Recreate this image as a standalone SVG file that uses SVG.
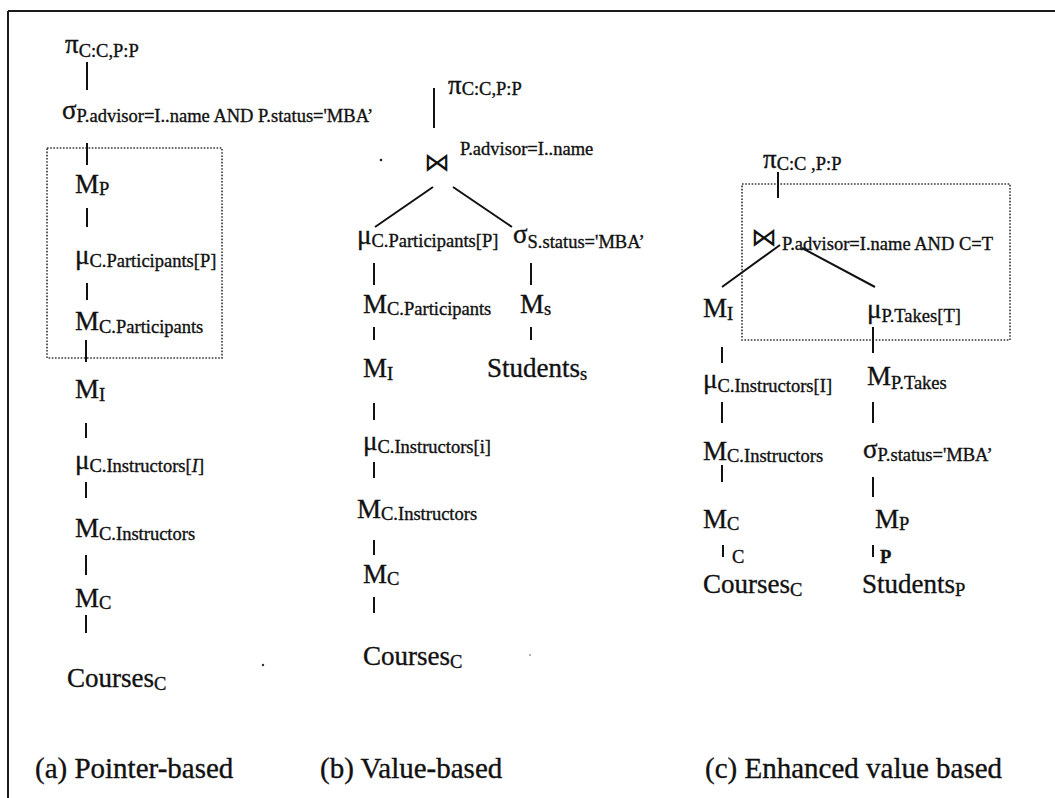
<svg xmlns="http://www.w3.org/2000/svg" width="1055" height="798" viewBox="0 0 1055 798">
  <style>
    .t { font-family: "Liberation Serif", "Times New Roman", serif; fill: #111; stroke: #111; stroke-width: 0.35; }
    .big { font-size: 27px; }
    .sub { font-size: 18.5px; }
    .lbl { font-size: 29px; }
    .bow { font-family: "DejaVu Sans", "DejaVu Serif", sans-serif; font-size: 26px; fill: #111; }
    .edge { stroke: #111; stroke-width: 2; fill: none; }
    .box { stroke: #333; stroke-width: 1.6; stroke-dasharray: 1.6 1.6; fill: none; }
    .frame { stroke: #1a1a1a; stroke-width: 2; fill: none; }
  </style>

  <rect width="1055" height="798" fill="#ffffff"/>

  <!-- outer frame: top and left rules -->
  <path class="frame" d="M8,11 H1055 M8,11 V798"/>

  <!-- grouping boxes -->
  <rect class="box" x="47" y="148" width="175" height="210"/>
  <rect class="box" x="742" y="184" width="268" height="156"/>

  <!-- connectors -->
  <g id="connectors">
    <!-- (a) pointer-based -->
    <path class="edge" d="M87,62 V90 M87,143 V165 M87,208 V227 M87,283 V300 M86,340 V362 M86,423 V438 M86,482 V498 M86,555 V575 M86,615 V633"/>
    <!-- (b) value-based -->
    <path class="edge" d="M434,88 V128 M433,187 L375,227 M453,187 L512,227 M374,263 V285 M531,263 V285 M374,327 V340 M531,327 V340 M374,403 V420 M374,462 V478 M374,540 V555 M374,597 V613"/>
    <!-- (c) enhanced value-based -->
    <path class="edge" d="M778,172 V198 M780,245 L722,287 M802,248 L875,287 M873,327 V353 M722,347 V363 M722,402 V423 M873,402 V423 M722,465 V482 M873,477 V497 M723,545 V557 M873,545 V557"/>
  </g>

  <!-- (a) Pointer-based plan -->
  <g id="a-project"><text class="t big" x="65" y="53">π<tspan class="sub" dy="4">C:C,P:P</tspan></text></g>
  <g id="a-select"><text class="t big" x="62" y="119">σ<tspan class="sub" dy="3">P.advisor=I..name AND P.status='MBA’</tspan></text></g>
  <g id="a-mat-p"><text class="t big" x="75" y="193">M<tspan class="sub" dy="2">P</tspan></text></g>
  <g id="a-unnest-part"><text class="t big" x="75" y="264">μ<tspan class="sub" dy="3">C.Participants[P]</tspan></text></g>
  <g id="a-mat-part"><text class="t big" x="75" y="330">M<tspan class="sub" dy="3">C.Participants</tspan></text></g>
  <g id="a-mat-i"><text class="t big" x="75" y="398">M<tspan class="sub" dy="3">I</tspan></text></g>
  <g id="a-unnest-instr"><text class="t big" x="75" y="469">μ<tspan class="sub" dy="3">C.Instructors[<tspan font-style="italic">I</tspan>]</tspan></text></g>
  <g id="a-mat-instr"><text class="t big" x="75" y="537">M<tspan class="sub" dy="3">C.Instructors</tspan></text></g>
  <g id="a-mat-c"><text class="t big" x="75" y="607">M<tspan class="sub" dy="2">C</tspan></text></g>
  <g id="a-courses"><text class="t big" x="67" y="687">Courses<tspan class="sub" dy="3">C</tspan></text></g>
  <g id="a-caption"><text class="t lbl" x="35" y="778">(a) Pointer-based</text></g>

  <!-- (b) Value-based plan -->
  <g id="b-project"><text class="t big" x="448" y="94">π<tspan class="sub" dy="1">C:C,P:P</tspan></text></g>
  <g id="b-join">
    <text class="bow" x="424" y="171">⋈</text>
    <text class="t sub" x="460" y="155">P.advisor=I..name</text>
  </g>
  <g id="b-unnest-part"><text class="t big" x="357" y="244">μ<tspan class="sub" dy="3">C.Participants[P]</tspan></text></g>
  <g id="b-select"><text class="t big" x="513" y="243">σ<tspan class="sub" dy="5">S.status='MBA’</tspan></text></g>
  <g id="b-mat-part"><text class="t big" x="363" y="313">M<tspan class="sub" dy="2">C.Participants</tspan></text></g>
  <g id="b-mat-s"><text class="t big" x="520" y="313">M<tspan class="sub" dy="2">s</tspan></text></g>
  <g id="b-mat-i"><text class="t big" x="363" y="377">M<tspan class="sub" dy="3">I</tspan></text></g>
  <g id="b-students"><text class="t big" x="487" y="377">Students<tspan class="sub" dy="3">s</tspan></text></g>
  <g id="b-unnest-instr"><text class="t big" x="363" y="450">μ<tspan class="sub" dy="3">C.Instructors[i]</tspan></text></g>
  <g id="b-mat-instr"><text class="t big" x="357" y="518">M<tspan class="sub" dy="2">C.Instructors</tspan></text></g>
  <g id="b-mat-c"><text class="t big" x="363" y="583">M<tspan class="sub" dy="2">C</tspan></text></g>
  <g id="b-courses"><text class="t big" x="363" y="665">Courses<tspan class="sub" dy="3">C</tspan></text></g>
  <g id="b-caption"><text class="t lbl" x="320" y="778">(b) Value-based</text></g>

  <!-- (c) Enhanced value-based plan -->
  <g id="c-project"><text class="t big" x="763" y="168">π<tspan class="sub" dy="2">C:C ,P:P</tspan></text></g>
  <g id="c-join">
    <text class="bow" x="751" y="246">⋈</text>
    <text class="t sub" x="782" y="250">P.advisor=I.name AND C=T</text>
  </g>
  <g id="c-mat-i"><text class="t big" x="703" y="317">M<tspan class="sub" dy="3">I</tspan></text></g>
  <g id="c-unnest-takes"><text class="t big" x="867" y="318">μ<tspan class="sub" dy="4">P.Takes[T]</tspan></text></g>
  <g id="c-unnest-instr"><text class="t big" x="703" y="388">μ<tspan class="sub" dy="4">C.Instructors[I]</tspan></text></g>
  <g id="c-mat-takes"><text class="t big" x="867" y="385">M<tspan class="sub" dy="4">P.Takes</tspan></text></g>
  <g id="c-mat-instr"><text class="t big" x="703" y="460">M<tspan class="sub" dy="2">C.Instructors</tspan></text></g>
  <g id="c-select"><text class="t big" x="863" y="458">σ<tspan class="sub" dy="3">P.status='MBA’</tspan></text></g>
  <g id="c-mat-c"><text class="t big" x="703" y="528">M<tspan class="sub" dy="2">C</tspan></text></g>
  <g id="c-mat-p"><text class="t big" x="875" y="528">M<tspan class="sub" dy="2">P</tspan></text></g>
  <g id="c-edge-labels">
    <text class="t sub" x="732" y="563">C</text>
    <text class="t sub" x="880" y="563" font-weight="bold">P</text>
  </g>
  <g id="c-courses"><text class="t big" x="703" y="593">Courses<tspan class="sub" dy="3">C</tspan></text></g>
  <g id="c-students"><text class="t big" x="862" y="593">Students<tspan class="sub" dy="3">P</tspan></text></g>
  <g id="c-caption"><text class="t lbl" x="705" y="778">(c) Enhanced value based</text></g>

  <!-- specks -->
  <circle cx="381" cy="160" r="1.3" fill="#222"/>
  <circle cx="263" cy="665" r="1.2" fill="#333"/>
  <circle cx="530" cy="655" r="1" fill="#999"/>
</svg>
